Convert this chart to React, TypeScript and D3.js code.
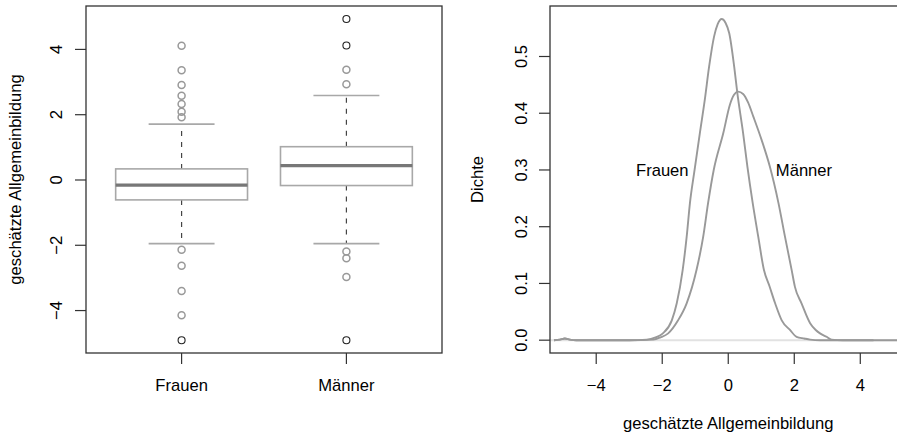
import React from "react";
import * as d3 from "d3";

// ---------- data ----------
const categories = ["Frauen", "Männer"];
const q1 = [-0.61, -0.17];
const medians = [-0.16, 0.44];
const q3 = [0.34, 1.02];
const whiskerLow = [-1.95, -1.95];
const whiskerHigh = [1.71, 2.59];
const outliersFrauen = [4.11, 3.36, 2.91, 2.58, 2.33, 2.09, 1.92, -2.14, -2.63, -3.4, -4.14];
const extremesFrauen = [-4.91];
const outliersMaenner = [3.38, 2.93, -2.19, -2.4, -2.97];
const extremesMaenner = [4.93, 4.12, -4.91];
const boxTicks = [-4, -2, 0, 2, 4];

const densXFrauen = [-5.28, -5.1, -4.95, -4.8, -4.6, -3.0, -2.47, -2.2, -1.98, -1.71, -1.56, -1.38, -1.26, -1.16, -1.02, -0.86, -0.71, -0.58, -0.43, -0.32, -0.2, -0.08, 0.03, 0.18, 0.27, 0.45, 0.58, 0.74, 0.91, 1.08, 1.25, 1.42, 1.62, 1.87, 2.07, 2.3, 2.48, 2.78, 3.5, 4.4];
const densYFrauen = [0, 0.001, 0.003, 0.001, 0, 0, 0.001, 0.005, 0.012, 0.035, 0.065, 0.124, 0.182, 0.242, 0.3, 0.365, 0.424, 0.482, 0.535, 0.557, 0.566, 0.559, 0.541, 0.482, 0.438, 0.365, 0.306, 0.242, 0.182, 0.124, 0.095, 0.065, 0.035, 0.018, 0.006, 0.003, 0.001, 0, 0, 0];
const densXMaenner = [-5.28, -5.1, -4.95, -4.8, -4.6, -3.0, -2.27, -2.05, -1.82, -1.52, -1.26, -0.96, -0.76, -0.61, -0.44, -0.15, 0.05, 0.17, 0.3, 0.45, 0.6, 0.76, 1.01, 1.26, 1.52, 1.72, 1.92, 2.02, 2.22, 2.48, 2.65, 2.78, 2.98, 3.13, 3.48, 4.5, 5.5];
const densYMaenner = [0, 0.001, 0.003, 0.001, 0, 0, 0.001, 0.005, 0.012, 0.035, 0.065, 0.124, 0.182, 0.242, 0.3, 0.365, 0.415, 0.432, 0.438, 0.434, 0.419, 0.394, 0.353, 0.306, 0.242, 0.182, 0.124, 0.094, 0.065, 0.03, 0.018, 0.012, 0.006, 0.001, 0, 0, 0];
const densXTicks = [-4, -2, 0, 2, 4];
const densYTicks = [0, 0.1, 0.2, 0.3, 0.4, 0.5];
const densityLabels = ["Frauen", "Männer"];
const labelX = [-1.02, 1.26];
const labelY = [0.3, 0.3];

const yTitle = "geschätzte Allgemeinbildung";
const densYTitle = "Dichte";
const densXTitle = "geschätzte Allgemeinbildung";

// ---------- styles ----------
const FONT = "'Liberation Sans', Arial, Helvetica, sans-serif";
const FS = 16.6;
const TXT = "#000";
const FRAME = "#333";
const BOXGRAY = "#a8a8a8";
const MEDGRAY = "#777";
const fmtNum = (v: number) => String(v).replace("-", "\u2212");

export default function App() {
  // left panel
  const L = { left: 86, right: 442, top: 6, bottom: 353 };
  const bx = d3.scaleLinear().domain([0.42, 2.58]).range([L.left, L.right]);
  const by = d3.scaleLinear().domain([-5.3, 5.33]).range([L.bottom, L.top]);
  const boxW = bx(1.4) - bx(1);
  const capW = bx(1.2) - bx(1);

  // right panel
  const R = { left: 550, right: 906.5, top: 6, bottom: 353 };
  const dx = d3.scaleLinear().domain([-5.4, 5.4]).range([R.left, R.right]);
  const dy = d3.scaleLinear().domain([-0.0226, 0.589]).range([R.bottom, R.top]);
  const line = d3
    .line<[number, number]>()
    .x((d) => dx(d[0]))
    .y((d) => dy(d[1]))
    .curve(d3.curveMonotoneX);
  const seriesF = d3.zip(densXFrauen, densYFrauen) as [number, number][];
  const seriesM = d3.zip(densXMaenner, densYMaenner) as [number, number][];

  const outlierSets = [
    { gray: outliersFrauen, black: extremesFrauen },
    { gray: outliersMaenner, black: extremesMaenner },
  ];

  return (
    <svg
      width={897}
      height={435}
      style={{ position: "absolute", left: 0, top: 0, background: "#fff" }}
      fontFamily={FONT}
    >
      <rect x={0} y={0} width={897} height={435} fill="#fff" />
      {/* ---------- LEFT: boxplot ---------- */}
      {categories.map((c, i) => {
        const cx = bx(i + 1);
        return (
          <g key={c}>
            <line x1={cx} x2={cx} y1={by(q3[i])} y2={by(whiskerHigh[i])} stroke="#444" strokeWidth={1.2} strokeDasharray="5,6" />
            <line x1={cx} x2={cx} y1={by(q1[i])} y2={by(whiskerLow[i])} stroke="#444" strokeWidth={1.2} strokeDasharray="5,6" />
            <line x1={cx - capW} x2={cx + capW} y1={by(whiskerHigh[i])} y2={by(whiskerHigh[i])} stroke={BOXGRAY} strokeWidth={1.6} />
            <line x1={cx - capW} x2={cx + capW} y1={by(whiskerLow[i])} y2={by(whiskerLow[i])} stroke={BOXGRAY} strokeWidth={1.6} />
            <rect x={cx - boxW} width={boxW * 2} y={by(q3[i])} height={by(q1[i]) - by(q3[i])} fill="#fff" stroke={BOXGRAY} strokeWidth={1.6} />
            <line x1={cx - boxW} x2={cx + boxW} y1={by(medians[i])} y2={by(medians[i])} stroke={MEDGRAY} strokeWidth={3.2} />
            {outlierSets[i].gray.map((v, k) => (
              <circle key={"g" + k} cx={cx} cy={by(v)} r={3.5} fill="none" stroke="#999" strokeWidth={1.5} />
            ))}
            {outlierSets[i].black.map((v, k) => (
              <circle key={"b" + k} cx={cx} cy={by(v)} r={3.5} fill="none" stroke="#222" strokeWidth={1.1} />
            ))}
            <line x1={cx} x2={cx} y1={L.bottom} y2={L.bottom + 11} stroke={FRAME} strokeWidth={1.2} />
            <text x={cx} y={391} textAnchor="middle" fontSize={FS} fill={TXT}>{c}</text>
          </g>
        );
      })}
      <rect x={L.left} y={L.top} width={L.right - L.left} height={L.bottom - L.top} fill="none" stroke={FRAME} strokeWidth={1.3} />
      {boxTicks.map((t) => (
        <g key={"by" + t}>
          <line x1={L.left - 11} x2={L.left} y1={by(t)} y2={by(t)} stroke={FRAME} strokeWidth={1.2} />
          <text transform={`translate(62,${by(t)}) rotate(-90)`} textAnchor="middle" fontSize={FS} fill={TXT}>{fmtNum(t)}</text>
        </g>
      ))}
      <text transform={`translate(21,${(L.top + L.bottom) / 2}) rotate(-90)`} textAnchor="middle" fontSize={FS} fill={TXT}>{yTitle}</text>

      {/* ---------- RIGHT: density ---------- */}
      <line x1={R.left} x2={R.right} y1={dy(0)} y2={dy(0)} stroke="#e2e2e2" strokeWidth={2} />
      <path d={line(seriesM) || ""} fill="none" stroke="#999" strokeWidth={1.9} />
      <path d={line(seriesF) || ""} fill="none" stroke="#999" strokeWidth={1.9} />
      <rect x={R.left} y={R.top} width={R.right - R.left} height={R.bottom - R.top} fill="none" stroke={FRAME} strokeWidth={1.3} />
      {densityLabels.map((lab, i) => (
        <text key={lab} x={dx(labelX[i]) + (i === 0 ? -6 : 6)} y={dy(labelY[i]) + 6} textAnchor={i === 0 ? "end" : "start"} fontSize={FS} fill={TXT}>{lab}</text>
      ))}
      {densXTicks.map((t) => (
        <g key={"dx" + t}>
          <line x1={dx(t)} x2={dx(t)} y1={R.bottom} y2={R.bottom + 11} stroke={FRAME} strokeWidth={1.2} />
          <text x={dx(t)} y={391} textAnchor="middle" fontSize={FS} fill={TXT}>{fmtNum(t)}</text>
        </g>
      ))}
      {densYTicks.map((t) => (
        <g key={"dy" + t}>
          <line x1={R.left - 11} x2={R.left} y1={dy(t)} y2={dy(t)} stroke={FRAME} strokeWidth={1.2} />
          <text transform={`translate(527,${dy(t)}) rotate(-90)`} textAnchor="middle" fontSize={FS} fill={TXT}>{t.toFixed(1)}</text>
        </g>
      ))}
      <text transform={`translate(483,${(R.top + R.bottom) / 2}) rotate(-90)`} textAnchor="middle" fontSize={FS} fill={TXT}>{densYTitle}</text>
      <text x={dx(0)} y={429} textAnchor="middle" fontSize={FS} fill={TXT}>{densXTitle}</text>
    </svg>
  );
}
